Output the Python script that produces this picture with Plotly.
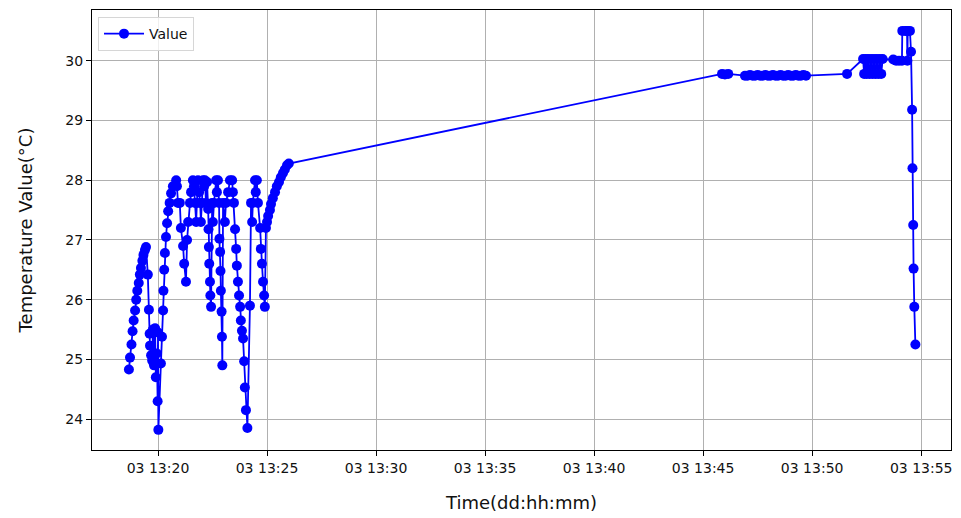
import pandas as pd
import plotly.graph_objects as go

# elapsed seconds after 13:18:00 on day 03
elapsed_s = [
    40, 43, 47, 50, 53, 57, 60, 63, 67, 70, 73, 77, 80, 84, 87,
    92, 95, 97, 98, 101, 104, 106, 109, 112, 114, 117, 119, 120, 121,
    128, 131, 134, 135, 137, 139, 142, 145, 148, 152, 156, 161, 170,
    172, 175, 180, 183, 189, 192, 197, 200, 203, 208, 211, 216, 219, 222, 225, 227,
    230, 233, 236, 238, 241, 244, 247, 249, 252, 255, 258, 259, 260, 261, 263, 264, 266,
    269, 271, 274, 280, 282, 285, 288, 289, 291, 292, 293, 295, 296, 297,
    299, 304, 307, 313, 318, 324, 326, 329, 332, 335, 337, 340, 343, 346, 348, 351, 354,
    357, 359, 362, 366, 373, 376, 379, 381, 387, 389, 392, 395, 401, 403, 406, 409, 412, 414,
    417, 420, 423, 428, 431, 436, 442, 447, 453, 458, 464, 469, 475, 480,
    1672, 1680, 1689,
    1735, 1742, 1749, 1756, 1763, 1770, 1777, 1784, 1791, 1798, 1805, 1812, 1819,
    1826, 1833, 1840, 1847, 1854, 1861, 1868, 1875, 1882, 1889, 1896, 1903,
    2016,
    2060, 2063, 2067, 2070, 2074, 2078, 2082, 2086, 2090, 2094, 2098, 2102, 2106, 2110, 2114,
    2143, 2151, 2159, 2167, 2168, 2176, 2181, 2182, 2183, 2189,
    2192, 2195, 2196, 2198, 2199, 2201, 2204,
]

temp_c = [
    24.83, 25.03, 25.25, 25.47, 25.65, 25.82, 26.00, 26.15, 26.28, 26.42, 26.53, 26.65, 26.75, 26.83, 26.88,
    26.42, 25.83, 25.43, 25.23, 25.07, 24.98, 25.50, 24.90, 25.52, 24.70, 25.10, 24.30, 25.45, 23.82,
    24.93, 25.38, 25.82, 26.15, 26.50, 26.78, 27.05, 27.28, 27.48, 27.62, 27.78, 27.90, 28.00,
    27.90, 27.62, 27.62, 27.20, 26.90, 26.60, 26.30, 27.00, 27.30, 27.62, 27.80, 28.00, 27.90, 27.62, 27.30, 27.62,
    28.00, 27.80, 27.62, 27.30, 27.62, 28.00, 27.90, 28.00, 27.62, 27.97, 27.52, 27.18, 26.88, 26.60, 26.30, 26.07, 25.88,
    27.62, 27.30, 27.62, 28.00, 27.80, 28.00, 27.62, 27.02, 26.80, 26.48, 26.15, 25.80, 25.38, 24.90,
    27.62, 27.30, 27.62, 27.80, 28.00, 28.00, 27.80, 27.62, 27.18, 26.85, 26.57, 26.30, 26.07, 25.88, 25.65, 25.48, 25.35,
    24.97, 24.53, 24.15, 23.85, 25.90, 27.62, 27.30, 27.62, 28.00, 27.80, 28.00, 27.62, 27.20, 26.85, 26.60, 26.30, 26.07, 25.88,
    27.20, 27.30, 27.40, 27.50, 27.60, 27.70, 27.80, 27.90, 27.97, 28.05, 28.12, 28.18, 28.25, 28.28,
    29.78, 29.77, 29.78,
    29.75, 29.75, 29.76, 29.75, 29.75, 29.76, 29.75, 29.75, 29.76, 29.75, 29.75, 29.76, 29.75,
    29.75, 29.76, 29.75, 29.75, 29.76, 29.75, 29.75, 29.76, 29.75, 29.75, 29.76, 29.75,
    29.78,
    30.03, 29.78, 30.03, 29.78, 30.03, 29.78, 30.03, 29.78, 30.03, 29.78, 30.03, 29.78, 30.03, 29.78, 30.03,
    30.02, 30.00, 30.00, 30.00, 30.50, 30.50, 30.50, 30.00, 30.50, 30.50,
    30.15, 29.18, 28.20, 27.25, 26.52, 25.88, 25.25,
]

base = pd.Timestamp("2024-01-03 13:18:00")
times = [base + pd.Timedelta(seconds=s) for s in elapsed_s]

x_range = [base + pd.Timedelta(seconds=-61.6), base + pd.Timedelta(seconds=2302)]
y_range = [23.483, 30.85]

font = "DejaVu Sans, Liberation Sans, sans-serif"

fig = go.Figure()
fig.add_trace(go.Scatter(
    x=times, y=temp_c, mode="lines+markers", name="Value",
    line=dict(color="#0000ff", width=1.8),
    marker=dict(color="#0000ff", size=10, symbol="circle"),
))

fig.update_layout(
    width=961, height=518,
    margin=dict(l=92, r=9, t=10, b=66),
    paper_bgcolor="white", plot_bgcolor="white",
    font=dict(family=font, color="#111111", size=14),
    showlegend=True,
    legend=dict(x=0.007, y=0.984, xanchor="left", yanchor="top",
                bgcolor="rgba(255,255,255,0.8)", bordercolor="#d6d6d6", borderwidth=1,
                itemwidth=40,
                font=dict(size=14, color="#111111")),
    xaxis=dict(
        range=x_range, type="date",
        tick0="2024-01-03 13:20:00", dtick=300000, tickformat="%d %H:%M",
        showgrid=True, gridcolor="#b0b0b0", gridwidth=1,
        showline=True, linecolor="black", linewidth=1, mirror=True,
        ticks="outside", ticklen=5, tickcolor="black",
        tickfont=dict(size=14),
        title=dict(text="Time(dd:hh:mm)", font=dict(size=18), standoff=21),
        zeroline=False,
    ),
    yaxis=dict(
        range=y_range, tick0=24, dtick=1,
        showgrid=True, gridcolor="#b0b0b0", gridwidth=1,
        showline=True, linecolor="black", linewidth=1, mirror=True,
        ticks="outside", ticklen=5, tickcolor="black",
        tickfont=dict(size=14),
        title=dict(text="Temperature Value(°C)", font=dict(size=18), standoff=28),
        zeroline=False,
    ),
)

fig.write_html("out.html")
